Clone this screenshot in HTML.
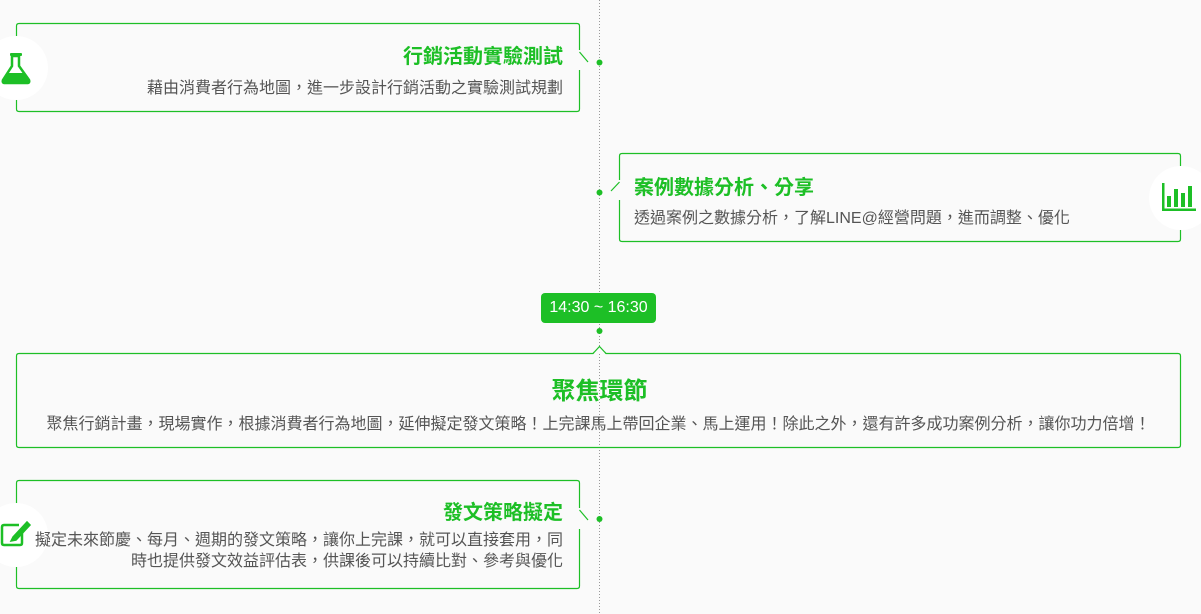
<!DOCTYPE html>
<html><head><meta charset="utf-8"><style>
*{margin:0;padding:0;box-sizing:border-box}
body{width:1201px;height:614px;background:#fafafa;position:relative;overflow:hidden;font-family:"Liberation Sans","Noto Sans CJK TC",sans-serif}
.t{position:absolute;white-space:nowrap}
.h{color:#1dbf26;font-weight:bold;font-size:20px}
.d{color:#555;font-size:16px}
</style></head><body>
<svg width="1201" height="614" style="position:absolute;left:0;top:0">
<line x1="599.5" y1="0" x2="599.5" y2="614" stroke="#999" stroke-width="1" stroke-dasharray="1,2"/>
<g fill="none" stroke="#1dbf26" stroke-width="1.2">
<path d="M579.5,50 V26 Q579.5,23.5 577,23.5 H19 Q16.5,23.5 16.5,26 V109 Q16.5,111.5 19,111.5 H577 Q579.5,111.5 579.5,109 V70"/>
<path d="M579.5,52 L588,62"/>
<path d="M619.5,180 V156 Q619.5,153.5 622,153.5 H1178 Q1180.5,153.5 1180.5,156 V239 Q1180.5,241.5 1178,241.5 H622 Q619.5,241.5 619.5,239 V200"/>
<path d="M619.5,182 L611,191"/>
<path d="M593,353.5 H19 Q16.5,353.5 16.5,356 V445 Q16.5,447.5 19,447.5 H1178 Q1180.5,447.5 1180.5,445 V356 Q1180.5,353.5 1178,353.5 H606 L599.5,346.5 Z"/>
<path d="M579.5,508 V483 Q579.5,480.5 577,480.5 H19 Q16.5,480.5 16.5,483 V586 Q16.5,588.5 19,588.5 H577 Q579.5,588.5 579.5,586 V529"/>
<path d="M579.5,510 L588,520"/>
</g>
<rect x="594" y="346" width="11" height="7" fill="#fafafa"/>
<path d="M593,353.5 L599.5,346.5 L606,353.5" fill="none" stroke="#1dbf26" stroke-width="1.2"/>
<g fill="#1dbf26">
<circle cx="599.5" cy="62.5" r="3"/>
<circle cx="599.5" cy="192.5" r="3"/>
<circle cx="599.5" cy="331" r="3"/>
<circle cx="599.5" cy="519" r="3"/>
</g>
<g fill="#fff">
<circle cx="16" cy="68" r="32"/>
<circle cx="1181" cy="198" r="32"/>
<circle cx="16" cy="535" r="32"/>
</g>
<g fill="#1dbf26">
<rect x="10" y="53" width="12" height="3" rx="1"/>
<path d="M12,56 H19 V66 L29,80 Q30,83 27,83 H5 Q2,83 3,80 L12,66 Z" fill="none" stroke="#1dbf26" stroke-width="2.5"/>
<path d="M8,73 H24 L29,80 Q30,83 27,83 H5 Q2,83 3,80 Z"/>
</g>
<g fill="#1dbf26">
<rect x="1162" y="183" width="2.5" height="28"/>
<rect x="1162" y="208.5" width="34" height="2.5"/>
<rect x="1167" y="196" width="4" height="11"/>
<rect x="1174" y="189" width="4" height="18"/>
<rect x="1181" y="193" width="4" height="14"/>
<rect x="1188" y="186" width="4" height="21"/>
</g>
<g fill="none" stroke="#1dbf26" stroke-width="2.5">
<path d="M19,525 H4 Q2,525 2,527 V543 Q2,545 4,545 H20 Q22,545 22,543 V533"/>
<path d="M13,537 L27,522 L30,525 L16,540 L11,541 Z" fill="#1dbf26" stroke-width="1.5"/>
</g>
</svg>
<div class="t h" style="right:638px;top:40px">行銷活動實驗測試</div>
<div class="t d" style="right:638px;top:74px">藉由消費者行為地圖，進一步設計行銷活動之實驗測試規劃</div>
<div class="t h" style="left:634px;top:171px">案例數據分析、分享</div>
<div class="t d" style="left:634px;top:204px">透過案例之數據分析，了解LINE@經營問題，進而調整、優化</div>
<div class="t" style="left:541px;top:293px;width:115px;height:30px;background:#1dbf26;border-radius:4px;color:#fff;font-size:16px;line-height:30px;text-align:center">14:30 ~ 16:30</div>
<div class="t h" style="left:0;width:1199px;text-align:center;top:371px;font-size:24px">聚焦環節</div>
<div class="t d" style="left:0;width:1197px;text-align:center;top:410px">聚焦行銷計畫，現場實作，根據消費者行為地圖，延伸擬定發文策略！上完課馬上帶回企業、馬上運用！除此之外，還有許多成功案例分析，讓你功力倍增！</div>
<div class="t h" style="right:638px;top:496px">發文策略擬定</div>
<div class="t d" style="right:638px;top:530px;text-align:right;line-height:21px">擬定未來節慶、每月、週期的發文策略，讓你上完課，就可以直接套用，同<br>時也提供發文效益評估表，供課後可以持續比對、參考與優化</div>
</body></html>
